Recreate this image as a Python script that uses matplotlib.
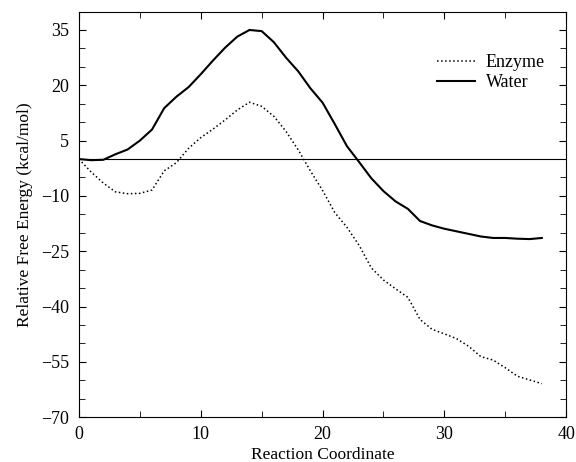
import numpy as np
import matplotlib.pyplot as plt
from matplotlib.ticker import MultipleLocator

plt.rcParams['font.family'] = ['Liberation Serif', 'DejaVu Serif']

# reaction coordinate
coord = list(range(0, 39))

# relative free energy (kcal/mol)
water = [0.0, -0.3, -0.2, 1.3, 2.6, 5.0, 8.0, 13.8, 16.9, 19.5,
         23.0, 26.7, 30.2, 33.2, 35.0, 34.7, 31.7, 27.5, 23.8, 19.2,
         15.3, 9.5, 3.5, -0.8, -5.2, -8.7, -11.5, -13.5, -16.8, -18.0,
         -18.9, -19.6, -20.3, -21.0, -21.4, -21.4, -21.6, -21.7, -21.4]
enzyme = [0.0, -3.5, -6.5, -8.9, -9.4, -9.3, -8.4, -3.2, -1.0, 2.9,
          5.8, 8.1, 10.6, 13.3, 15.4, 14.3, 11.6, 7.5, 2.5, -3.2,
          -8.5, -14.5, -18.5, -23.4, -29.5, -32.8, -35.2, -37.5, -43.5, -46.2,
          -47.4, -48.7, -50.8, -53.6, -54.5, -56.6, -58.9, -59.9, -60.9]

fig = plt.figure(figsize=(5.76, 4.62), dpi=100)
ax = fig.add_axes([0.137, 0.097, 0.846, 0.878])

ax.plot(coord, enzyme, ':', color='k', lw=1.1, label='Enzyme')
ax.plot(coord, water, '-', color='k', lw=1.5, label='Water')
ax.axhline(0, color='k', lw=0.8)

ax.set_xlim(0, 40)
ax.set_ylim(-70, 40)
ax.set_xticks([0, 10, 20, 30, 40])
ax.set_yticks([35, 20, 5, -10, -25, -40, -55, -70])
ax.xaxis.set_minor_locator(MultipleLocator(5))
ax.yaxis.set_minor_locator(MultipleLocator(5))
ax.tick_params(which='both', direction='in', top=True, right=True, labelsize=13)
ax.tick_params(which='major', length=5)
ax.tick_params(which='minor', length=4)
ax.tick_params(axis='y', pad=7)
ax.tick_params(axis='x', pad=6)
ax.set_yticklabels(['35', '20', '5', '\u221210', '\u221225', '\u221240', '\u221255', '\u221270'])

ax.set_xlabel('Reaction Coordinate', fontsize=12.5, labelpad=3)
ax.set_ylabel('Relative Free Energy (kcal/mol)', fontsize=12.5, labelpad=6)
ax.legend(loc='upper right', bbox_to_anchor=(0.99, 0.935), frameon=False,
          fontsize=13, handlelength=2.1, handletextpad=0.6, labelspacing=0.15)

plt.savefig('out.png', dpi=100)
